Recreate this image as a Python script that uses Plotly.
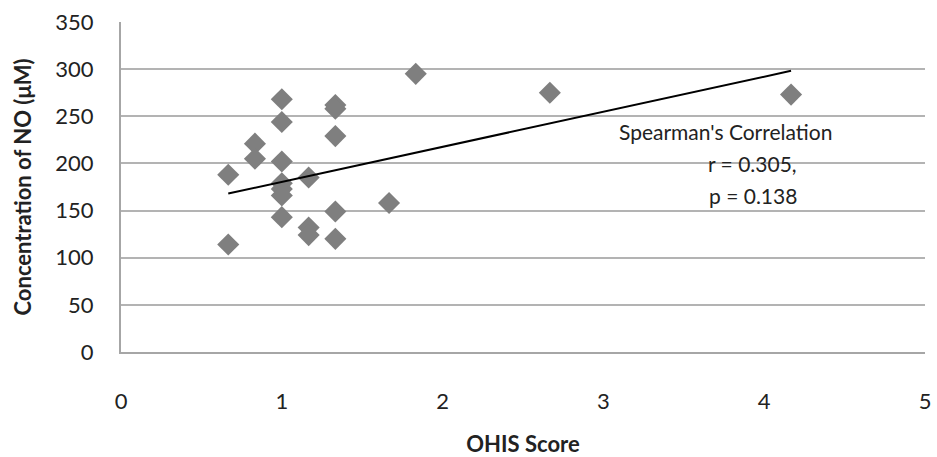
import numpy as np
import plotly.graph_objects as go

ohis = [0.667, 0.667, 0.833, 0.833, 1, 1, 1, 1, 1, 1, 1,
        1.167, 1.167, 1.167, 1.333, 1.333, 1.333, 1.333, 1.333,
        1.667, 1.833, 2.667, 4.167]
no_conc = [188, 114, 221, 205, 268, 244, 202, 179, 173, 166, 143,
           185, 132, 124, 262, 258, 229, 149, 120,
           158, 295, 275, 273]
x_ticks = [0, 1, 2, 3, 4, 5]
y_ticks = [0, 50, 100, 150, 200, 250, 300, 350]
# linear trendline as drawn in the source chart
trend_slope = 37.2
trend_intercept = 143.2

tx = np.array([min(ohis), max(ohis)])
ty = trend_slope * tx + trend_intercept

font = "Lato"
fig = go.Figure()
fig.add_trace(go.Scatter(x=ohis, y=no_conc, mode="markers",
                         marker=dict(symbol="diamond", size=17, color="#7f7f7f"),
                         showlegend=False))
fig.add_trace(go.Scatter(x=tx, y=ty, mode="lines",
                         line=dict(color="black", width=2), showlegend=False))

ann = [("Spearman's Correlation", 3.76, 234), ("r = 0.305,", 3.93, 200), ("p = 0.138", 3.93, 165.6)]
for t, x, y in ann:
    fig.add_annotation(x=x, y=y, text=t, showarrow=False, xanchor="center", yanchor="middle",
                       font=dict(family=font, size=21, color="#222"))

fig.update_layout(
    width=937, height=457, margin=dict(l=121, r=12, t=22, b=105, autoexpand=False),
    plot_bgcolor="white", paper_bgcolor="white",
    font=dict(family=font, size=22, color="#222"),
    xaxis=dict(range=[0, 5], tickvals=x_ticks, showgrid=False, zeroline=False, automargin=False,
               showline=True, linecolor="#a6a6a6", linewidth=2,
               ticks="outside", ticklen=29, tickcolor="rgba(0,0,0,0)",
               title=dict(text="<b>OHIS Score</b>", font=dict(size=22), standoff=25)),
    yaxis=dict(range=[0, 350], tickvals=y_ticks, showgrid=True, gridcolor="#b3b3b3", gridwidth=2,
               zeroline=False, showline=True, linecolor="#a6a6a6", linewidth=2, automargin=False,
               ticks="outside", ticklen=21, tickcolor="rgba(0,0,0,0)",
               title=dict(text="<b>Concentration of NO (μM)</b>", font=dict(size=22), standoff=18)),
)
fig.write_html("out.html")
